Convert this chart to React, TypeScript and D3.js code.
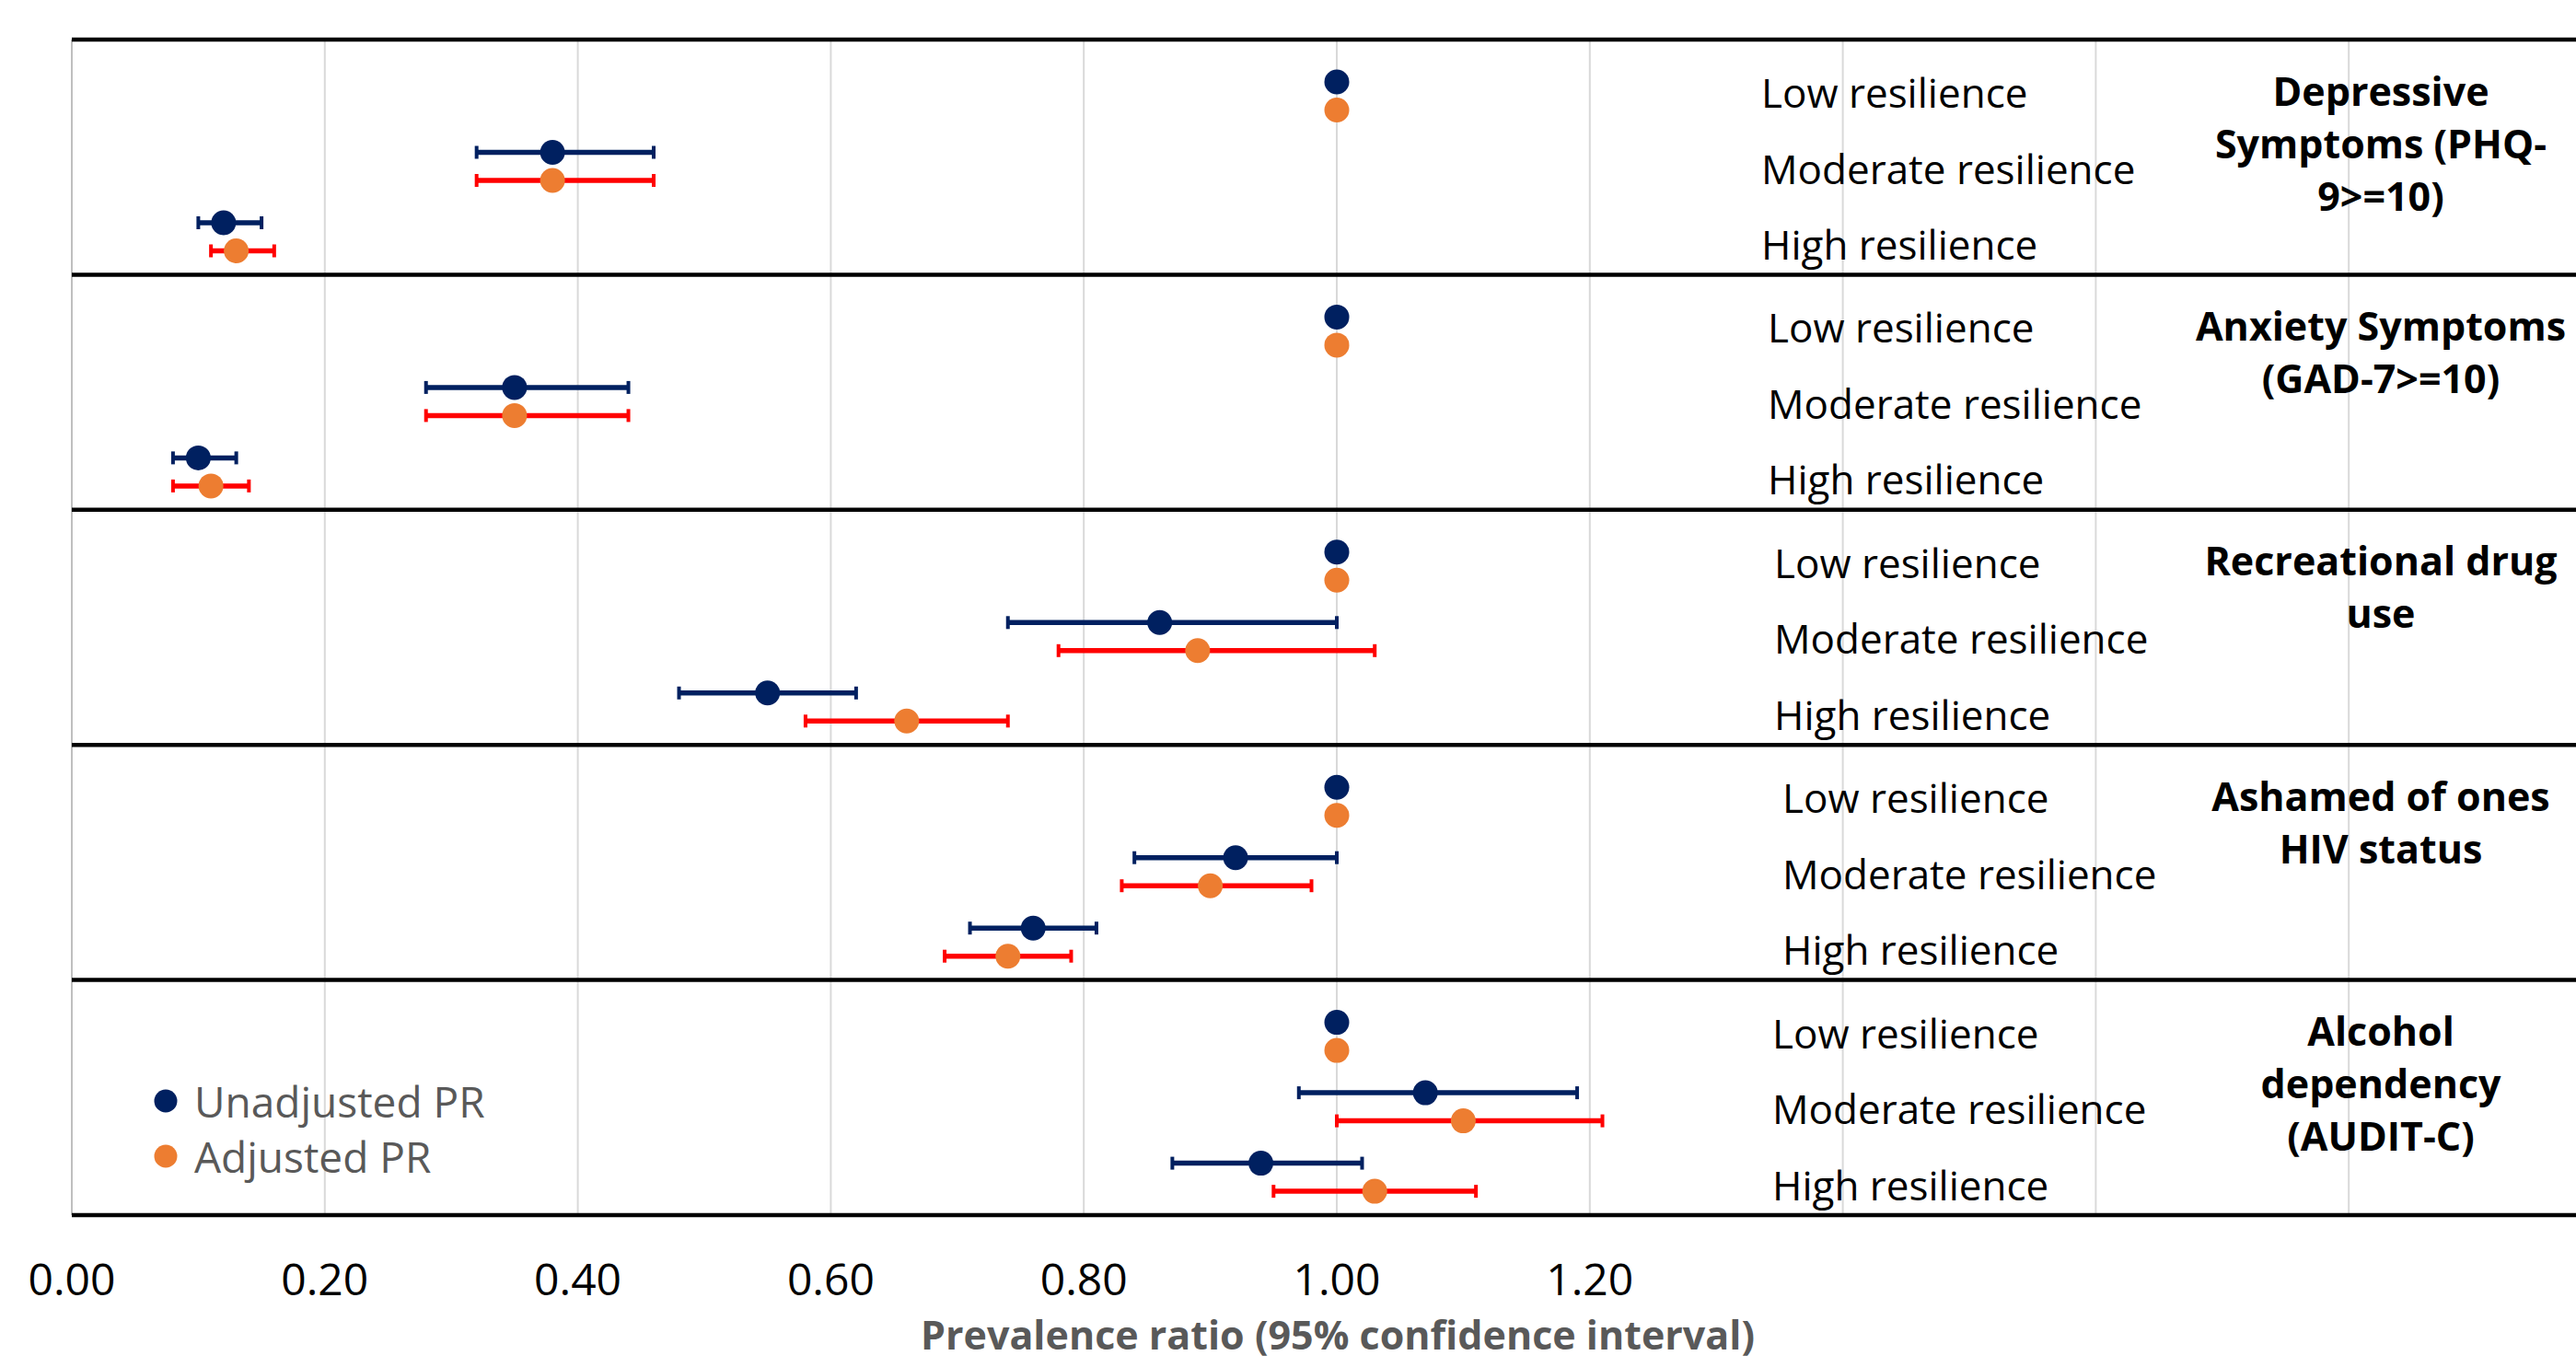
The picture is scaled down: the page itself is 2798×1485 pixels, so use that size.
import * as d3 from 'd3';

const outcomes = [
  'Depressive Symptoms (PHQ-9>=10)',
  'Anxiety Symptoms (GAD-7>=10)',
  'Recreational drug use',
  'Ashamed of ones HIV status',
  'Alcohol dependency (AUDIT-C)',
];
// how each outcome title wraps on the right
const outcomeLines = [
  ['Depressive', 'Symptoms (PHQ-', '9>=10)'],
  ['Anxiety Symptoms', '(GAD-7>=10)'],
  ['Recreational drug', 'use'],
  ['Ashamed of ones', 'HIV status'],
  ['Alcohol', 'dependency', '(AUDIT-C)'],
];
const levels = ['Low resilience', 'Moderate resilience', 'High resilience'];
const seriesNames = ['Unadjusted PR', 'Adjusted PR'];

// prevalence ratios, one row per outcome, columns low / moderate / high
const unadjustedPR = [
  [1.0, 0.38, 0.12],
  [1.0, 0.35, 0.1],
  [1.0, 0.86, 0.55],
  [1.0, 0.92, 0.76],
  [1.0, 1.07, 0.94],
];
const unadjustedLow = [
  [null, 0.32, 0.1],
  [null, 0.28, 0.08],
  [null, 0.74, 0.48],
  [null, 0.84, 0.71],
  [null, 0.97, 0.87],
];
const unadjustedHigh = [
  [null, 0.46, 0.15],
  [null, 0.44, 0.13],
  [null, 1.0, 0.62],
  [null, 1.0, 0.81],
  [null, 1.19, 1.02],
];
const adjustedPR = [
  [1.0, 0.38, 0.13],
  [1.0, 0.35, 0.11],
  [1.0, 0.89, 0.66],
  [1.0, 0.9, 0.74],
  [1.0, 1.1, 1.03],
];
const adjustedLow = [
  [null, 0.32, 0.11],
  [null, 0.28, 0.08],
  [null, 0.78, 0.58],
  [null, 0.83, 0.69],
  [null, 1.0, 0.95],
];
const adjustedHigh = [
  [null, 0.46, 0.16],
  [null, 0.44, 0.14],
  [null, 1.03, 0.74],
  [null, 0.98, 0.79],
  [null, 1.21, 1.11],
];

const tickValues = [0, 0.2, 0.4, 0.6, 0.8, 1.0, 1.2];
const gridValues = [0, 0.2, 0.4, 0.6, 0.8, 1.0, 1.2, 1.4, 1.6, 1.8];

const W = 2798;
const H = 1485;
const font = '"Open Sans", "Noto Sans", sans-serif';
const navy = '#002060';
const orange = '#ED7D31';
const red = '#FF0000';
// small per-panel shift of the level labels, as in the original
const labelX = [1913, 1920, 1927, 1936, 1925];

const series = [
  { name: seriesNames[0], pr: unadjustedPR, lo: unadjustedLow, hi: unadjustedHigh, fill: navy, bar: navy },
  { name: seriesNames[1], pr: adjustedPR, lo: adjustedLow, hi: adjustedHigh, fill: orange, bar: red },
];

function App() {
  const x = d3.scaleLinear().domain([0, 2]).range([78, 2826]);
  const panel = d3.scaleBand().domain(outcomes).range([43, 1320]);
  const row = d3.scalePoint().domain(levels).range([46, 199]);
  const shift = d3.scalePoint().domain(seriesNames).range([0, 30.5]);
  const labelRow = d3.scalePoint().domain(levels).range([57, 222]);

  const yOf = (o: string, l: string, s: string) =>
    (panel(o) as number) + (row(l) as number) + (shift(s) as number);

  return (
    <svg width={W} height={H} style={{ position: 'absolute', left: 0, top: 0, background: '#fff' }}>
      <g>
        {gridValues.map((v) => (
          <line key={v} x1={x(v)} x2={x(v)} y1={43} y2={1320}
            stroke={v === 0 ? '#bfbfbf' : '#d9d9d9'} strokeWidth={2} />
        ))}
      </g>
      <g>
        {[...outcomes.map((o) => panel(o) as number), 1320].map((y, i) => (
          <line key={i} x1={78} x2={W} y1={y} y2={y} stroke="#000" strokeWidth={4.5} />
        ))}
      </g>
      {outcomes.map((o, oi) => (
        <g key={o}>
          {series.map((s) =>
            levels.map((l, li) => {
              const lo = s.lo[oi][li];
              const hi = s.hi[oi][li];
              const y = yOf(o, l, s.name);
              if (lo == null || hi == null) return null;
              return (
                <g key={s.name + l} stroke={s.bar}>
                  <line x1={x(lo)} x2={x(hi)} y1={y} y2={y} strokeWidth={5.5} />
                  <line x1={x(lo)} x2={x(lo)} y1={y - 7} y2={y + 7} strokeWidth={4} />
                  <line x1={x(hi)} x2={x(hi)} y1={y - 7} y2={y + 7} strokeWidth={4} />
                </g>
              );
            })
          )}
          {series.map((s) =>
            levels.map((l, li) => (
              <circle key={s.name + l + 'pt'} cx={x(s.pr[oi][li])} cy={yOf(o, l, s.name)} r={13.5} fill={s.fill} />
            ))
          )}
          {levels.map((l) => (
            <text key={l + 'lab'} x={labelX[oi]} y={(panel(o) as number) + (labelRow(l) as number)}
              dominantBaseline="central" fontFamily={font} fontSize={44} fill="#000">{l}</text>
          ))}
          {outcomeLines[oi].map((t, ti) => (
            <text key={t} x={2586} y={(panel(o) as number) + 55 + ti * 57} textAnchor="middle"
              dominantBaseline="central" fontFamily={font} fontWeight="bold" fontSize={43} fill="#000">{t}</text>
          ))}
        </g>
      ))}
      <g>
        {tickValues.map((v) => (
          <text key={v} x={x(v)} y={1388} textAnchor="middle" dominantBaseline="central"
            fontFamily={font} fontSize={48} fill="#000">{d3.format('.2f')(v)}</text>
        ))}
      </g>
      <text x={1453} y={1466} textAnchor="middle" fontFamily={font}
        fontWeight="bold" fontSize={43} fill="#595959">Prevalence ratio (95% confidence interval)</text>
      <g>
        {series.map((s, i) => (
          <g key={s.name}>
            <circle cx={180} cy={1196 + i * 60} r={12.5} fill={s.fill} />
            <text x={211} y={1196 + i * 60} dominantBaseline="central" fontFamily={font}
              fontSize={46} fill="#595959">{s.name}</text>
          </g>
        ))}
      </g>
    </svg>
  );
}

export default App;
